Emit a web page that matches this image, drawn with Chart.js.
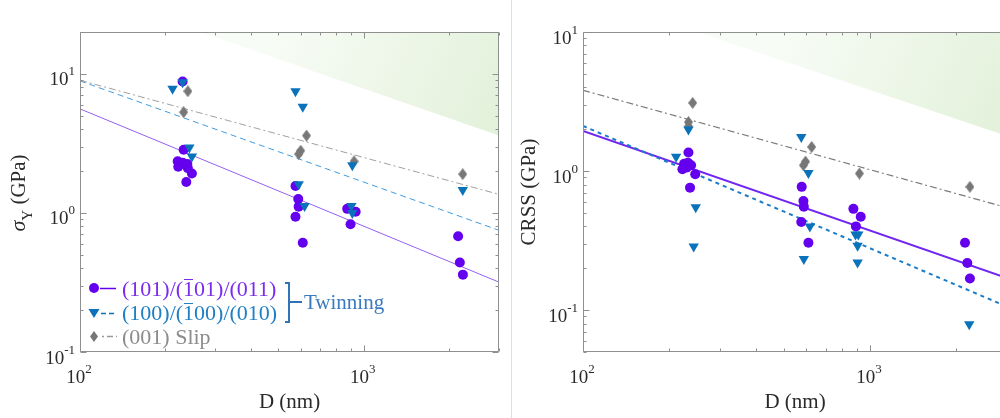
<!DOCTYPE html>
<html>
<head>
<meta charset="utf-8">
<script src="https://cdn.jsdelivr.net/npm/chart.js@4/dist/chart.umd.min.js"></script>
<style>
  html, body { margin: 0; padding: 0; width: 1000px; height: 418px; overflow: hidden; background: #fff; }
  canvas { position: absolute; top: 0; }
  #yieldChart { left: 0; }
  #crssChart { left: 500px; }
  .sep { position: absolute; left: 511px; top: 0; width: 1px; height: 418px; background: #dedede; }
  .leg { position: absolute; font-family: "Liberation Serif", "Times New Roman", serif; font-size: 22px; line-height: 24px; white-space: nowrap; }
  .ob { position: relative; }
  .ob::after { content: ''; position: absolute; left: 1px; right: 1px; top: 3px; border-top: 1.5px solid currentColor; }
</style>
</head>
<body>
<div class="sep"></div>
<canvas id="yieldChart" width="510" height="418"></canvas>
<canvas id="crssChart" width="520" height="418"></canvas>

<div class="leg" style="left:122px; top:277px; color:#7a2cee;">(101)/(<span class="ob">1</span>01)/(011)</div>
<div class="leg" style="left:122px; top:301px; color:#1f7fc4;">(100)/(<span class="ob">1</span>00)/(010)</div>
<div class="leg" style="left:122px; top:325px; color:#8c8c8c;">(001) Slip</div>
<div class="leg" style="left:304px; top:290px; color:#3a7abf; font-size:21px;">Twinning</div>

<script>
// ---- Yield stress vs. pillar diameter (left panel) ----
const yieldTwin101D = [230, 232, 222, 221, 230, 239, 240, 248, 237, 575, 588, 590, 575, 610, 875, 937, 899, 2153, 2183, 2238];
const yieldTwin101  = [8.8, 2.85, 2.15, 2.35, 2.3, 2.25, 2.1, 1.92, 1.67, 1.56, 1.26, 1.11, 0.94, 0.61, 1.07, 1.02, 0.83, 0.68, 0.44, 0.36];
const yieldTwin100D = [212, 230, 575, 610, 243, 248, 590, 619, 905, 912, 912, 2235];
const yieldTwin100  = [7.8, 8.7, 7.5, 5.8, 2.95, 2.55, 1.61, 1.12, 1.12, 1.0, 2.2, 1.46];
const yieldSlipD    = [240, 232, 629, 600, 590, 925, 2235];
const yieldSlip     = [7.5, 5.3, 3.6, 2.8, 2.65, 2.35, 1.9];

// ---- Critical resolved shear stress vs. pillar diameter (right panel) ----
const crssTwin101D = [233, 225, 232, 238, 222, 230, 246, 236, 578, 586, 588, 576, 610, 875, 928, 893, 2142, 2182, 2228];
const crssTwin101  = [1.36, 1.13, 1.15, 1.1, 1.03, 1.06, 0.95, 0.76, 0.77, 0.61, 0.555, 0.43, 0.305, 0.535, 0.47, 0.40, 0.305, 0.218, 0.169];
const crssTwin100D = [233, 211, 247, 243, 576, 610, 617, 588, 890, 910, 905, 905, 2216];
const crssTwin100  = [1.99, 1.27, 0.55, 0.287, 1.76, 0.97, 0.40, 0.233, 0.35, 0.35, 0.29, 0.22, 0.079];
const crssSlipD    = [241, 233, 233, 626, 586, 596, 918, 2228];
const crssSlip     = [3.09, 2.25, 2.1, 1.49, 1.10, 1.17, 0.96, 0.77];

// Power-law fit lines, given at the two ends of the diameter range
const fitD         = [100, 3000];
const yieldFit101  = [5.6, 0.318];
const yieldFit100  = [8.9, 0.75];
const yieldFitSlip = [9.0, 1.36];
const crssFit101   = [1.94, 0.170];
const crssFit100   = [2.11, 0.106];
const crssFitSlip  = [3.81, 0.546];

// Shaded upper bound band (edge of the green region)
const yieldBandD = [265, 3000];
const yieldBand  = [20, 3.61];
const crssBandD  = [250, 3000];
const crssBand   = [10, 1.79];

// Axis ticks
const xTickValues = [100, 1000];
const xTickExp    = ['2', '3'];
const yTickValues = [0.1, 1, 10];
const yTickExp    = ['-1', '0', '1'];

const PURPLE = '#6400ee', BLUE = '#0a72ba', GRAY = '#777777';
const SERIF = '"Liberation Serif", "Times New Roman", serif';
const TEXT = '#2a2a2a';

const pts = (xs, ys) => xs.map((x, i) => ({ x, y: ys[i] }));

// tall diamond marker
function diamond(w, h, color) {
  const c = document.createElement('canvas');
  c.width = w; c.height = h;
  const g = c.getContext('2d');
  g.fillStyle = color;
  g.beginPath();
  g.moveTo(w / 2, 0); g.lineTo(w, h / 2); g.lineTo(w / 2, h); g.lineTo(0, h / 2);
  g.closePath(); g.fill();
  return c;
}
const diamondImg = diamond(9, 12, GRAY);

function bandFill(ctx) {
  const chart = ctx.chart, a = chart.chartArea;
  if (!a) return 'rgba(230,242,222,0.6)';
  const g = chart.ctx.createLinearGradient(a.right, a.top + a.height * 0.33, a.left + a.width * 0.45, a.top);
  g.addColorStop(0, 'rgb(226,241,218)');
  g.addColorStop(1, 'rgb(248,252,246)');
  return g;
}

function makeDatasets(s) {
  return [
    { data: pts(s.bandD, s.band), showLine: true, fill: 'end', borderWidth: 0, pointRadius: 0,
      backgroundColor: bandFill, order: 20 },
    { data: pts(fitD, s.fitSlip), showLine: true, pointRadius: 0, borderColor: s.slipLine,
      borderWidth: s.slipLw, borderDash: [7, 3, 2, 3], order: 10 },
    { data: pts(fitD, s.fit100), showLine: true, pointRadius: 0, borderColor: s.blueLine,
      borderWidth: s.lw, borderDash: s.blueDash, order: 10 },
    { data: pts(fitD, s.fit101), showLine: true, pointRadius: 0, borderColor: s.purpleLine,
      borderWidth: s.lw, order: 10 },
    { data: pts(s.slipD, s.slip), pointStyle: diamondImg, pointRadius: 6, order: 3 },
    { data: pts(s.t101D, s.t101), pointStyle: 'circle', pointRadius: 5, backgroundColor: PURPLE,
      borderColor: PURPLE, borderWidth: 0, order: 2 },
    { data: pts(s.t100D, s.t100), pointStyle: 'triangle', rotation: 180, pointRadius: 6,
      backgroundColor: BLUE, borderColor: BLUE, borderWidth: 0, order: 1 }
  ];
}

function tickList(min, max) {
  const out = [];
  for (let k = Math.floor(Math.log10(min)); k <= Math.ceil(Math.log10(max)); k++) {
    for (let m = 1; m <= 9; m++) {
      const v = m * Math.pow(10, k);
      if (v >= min * 0.999 && v <= max * 1.001) out.push({ v, major: m === 1 });
    }
  }
  return out;
}

function drawPow(ctx, xRight, baseY, exp, mode, xCenter) {
  ctx.font = '19px ' + SERIF;
  const wb = ctx.measureText('10').width;
  ctx.font = '13px ' + SERIF;
  const we = ctx.measureText(exp).width;
  const x0 = mode === 'right' ? xRight - wb - we : xCenter - (wb + we) / 2;
  ctx.textAlign = 'left';
  ctx.textBaseline = 'alphabetic';
  ctx.font = '19px ' + SERIF;
  ctx.fillText('10', x0, baseY);
  ctx.font = '13px ' + SERIF;
  ctx.fillText(exp, x0 + wb, baseY - 10);
}

const axesFrame = {
  id: 'axesFrame',
  afterDatasetsDraw(chart, args, o) {
    const { ctx, chartArea: a, scales: { x, y } } = chart;
    const L = Math.round(a.left) + 0.5, R = Math.round(a.right) - 0.5;
    const T = Math.round(a.top) + 0.5, B = Math.round(a.bottom) - 0.5;
    ctx.save();
    ctx.strokeStyle = '#8f8f8f';
    ctx.lineWidth = 1;
    ctx.beginPath();
    ctx.rect(L, T, R - L, B - T);
    ctx.stroke();
    ctx.beginPath();
    for (const t of tickList(x.min, x.max)) {
      const px = Math.round(x.getPixelForValue(t.v)) + 0.5;
      const len = t.major ? 6 : 3;
      ctx.moveTo(px, B); ctx.lineTo(px, B - len);
      ctx.moveTo(px, T); ctx.lineTo(px, T + len);
    }
    for (const t of tickList(y.min, y.max)) {
      const py = Math.round(y.getPixelForValue(t.v)) + 0.5;
      const len = t.major ? 6 : 3;
      ctx.moveTo(L, py); ctx.lineTo(L + len, py);
      ctx.moveTo(R, py); ctx.lineTo(R - len, py);
    }
    ctx.stroke();

    // tick labels
    ctx.fillStyle = TEXT;
    xTickValues.forEach((v, i) => {
      drawPow(ctx, 0, a.bottom + 31, xTickExp[i], 'center', x.getPixelForValue(v) - 1);
    });
    yTickValues.forEach((v, i) => {
      if (v < y.min * 0.999 || v > y.max * 1.001) return;
      drawPow(ctx, a.left - 5, y.getPixelForValue(v) + 11.5, yTickExp[i], 'right');
    });

    // x title
    ctx.font = '21px ' + SERIF;
    ctx.textAlign = 'center';
    ctx.textBaseline = 'alphabetic';
    ctx.fillText('D (nm)', (a.left + a.right) / 2, 408);

    // y title
    ctx.save();
    ctx.translate(o.yTitleX, o.yTitleY);
    ctx.rotate(-Math.PI / 2);
    ctx.textAlign = 'left';
    if (o.sigma) {
      ctx.font = 'italic 22px ' + SERIF;
      const ws = ctx.measureText('\u03c3').width;
      ctx.font = '15px ' + SERIF;
      const wy = ctx.measureText('Y').width;
      ctx.font = '21px ' + SERIF;
      const wg = ctx.measureText(' (GPa)').width;
      let sx = -(ws + wy + wg) / 2;
      ctx.font = 'italic 22px ' + SERIF;
      ctx.fillText('\u03c3', sx, 0);
      ctx.font = '15px ' + SERIF;
      ctx.fillText('Y', sx + ws, 7);
      ctx.font = '21px ' + SERIF;
      ctx.fillText(' (GPa)', sx + ws + wy, 0);
    } else {
      ctx.font = '21px ' + SERIF;
      ctx.textAlign = 'center';
      ctx.fillText(o.yTitle, 0, 0);
    }
    ctx.restore();

    // legend glyphs and bracket
    if (o.legend) {
      ctx.fillStyle = PURPLE;
      ctx.beginPath(); ctx.arc(94, 288, 5, 0, Math.PI * 2); ctx.fill();
      ctx.strokeStyle = PURPLE; ctx.lineWidth = 1.5;
      ctx.beginPath(); ctx.moveTo(100, 288.5); ctx.lineTo(116, 288.5); ctx.stroke();

      ctx.fillStyle = BLUE;
      ctx.beginPath(); ctx.moveTo(88.5, 309); ctx.lineTo(99.5, 309); ctx.lineTo(94, 318); ctx.closePath(); ctx.fill();
      ctx.strokeStyle = BLUE;
      ctx.setLineDash([5, 3]);
      ctx.beginPath(); ctx.moveTo(101, 313.5); ctx.lineTo(117, 313.5); ctx.stroke();

      ctx.drawImage(diamond(8, 11, GRAY), 90, 331);
      ctx.strokeStyle = '#999';
      ctx.setLineDash([2, 3, 6, 3]);
      ctx.beginPath(); ctx.moveTo(102, 336.5); ctx.lineTo(117, 336.5); ctx.stroke();
      ctx.setLineDash([]);

      ctx.strokeStyle = '#2f74b5'; ctx.lineWidth = 2;
      ctx.beginPath();
      ctx.moveTo(285, 283); ctx.lineTo(289, 283); ctx.lineTo(289, 322); ctx.lineTo(285, 322);
      ctx.moveTo(289, 302); ctx.lineTo(302, 302);
      ctx.stroke();
    }
    ctx.restore();
  }
};

function build(canvasId, s) {
  return new Chart(document.getElementById(canvasId), {
    type: 'scatter',
    data: { datasets: makeDatasets(s) },
    options: {
      responsive: false,
      animation: false,
      devicePixelRatio: 1,
      layout: { padding: s.padding },
      scales: {
        x: { type: 'logarithmic', min: 100, max: 3000, display: false },
        y: { type: 'logarithmic', min: s.yMin, max: s.yMax, display: false }
      },
      plugins: {
        legend: { display: false },
        tooltip: { enabled: false },
        axesFrame: s.frame
      }
    },
    plugins: [axesFrame]
  });
}

build('yieldChart', {
  t101D: yieldTwin101D, t101: yieldTwin101, t100D: yieldTwin100D, t100: yieldTwin100,
  slipD: yieldSlipD, slip: yieldSlip,
  fit101: yieldFit101, fit100: yieldFit100, fitSlip: yieldFitSlip,
  bandD: yieldBandD, band: yieldBand,
  lw: 1, slipLw: 1, blueDash: [6, 4],
  purpleLine: '#9460f2', blueLine: '#3f9be0', slipLine: '#a0a0a0',
  yMin: 0.1, yMax: 20,
  padding: { left: 80, right: 11, top: 32, bottom: 66 },
  frame: { sigma: true, yTitleX: 25, yTitleY: 193, legend: true }
});

build('crssChart', {
  t101D: crssTwin101D, t101: crssTwin101, t100D: crssTwin100D, t100: crssTwin100,
  slipD: crssSlipD, slip: crssSlip,
  fit101: crssFit101, fit100: crssFit100, fitSlip: crssFitSlip,
  bandD: crssBandD, band: crssBand,
  lw: 2, slipLw: 1.2, blueDash: [4, 4],
  purpleLine: '#7026f0', blueLine: '#1a7cc8', slipLine: '#7a7a7a',
  yMin: 0.05, yMax: 10,
  padding: { left: 83, right: 13, top: 32, bottom: 66 },
  frame: { sigma: false, yTitle: 'CRSS (GPa)', yTitleX: 35, yTitleY: 192, legend: false }
});
</script>
</body>
</html>
